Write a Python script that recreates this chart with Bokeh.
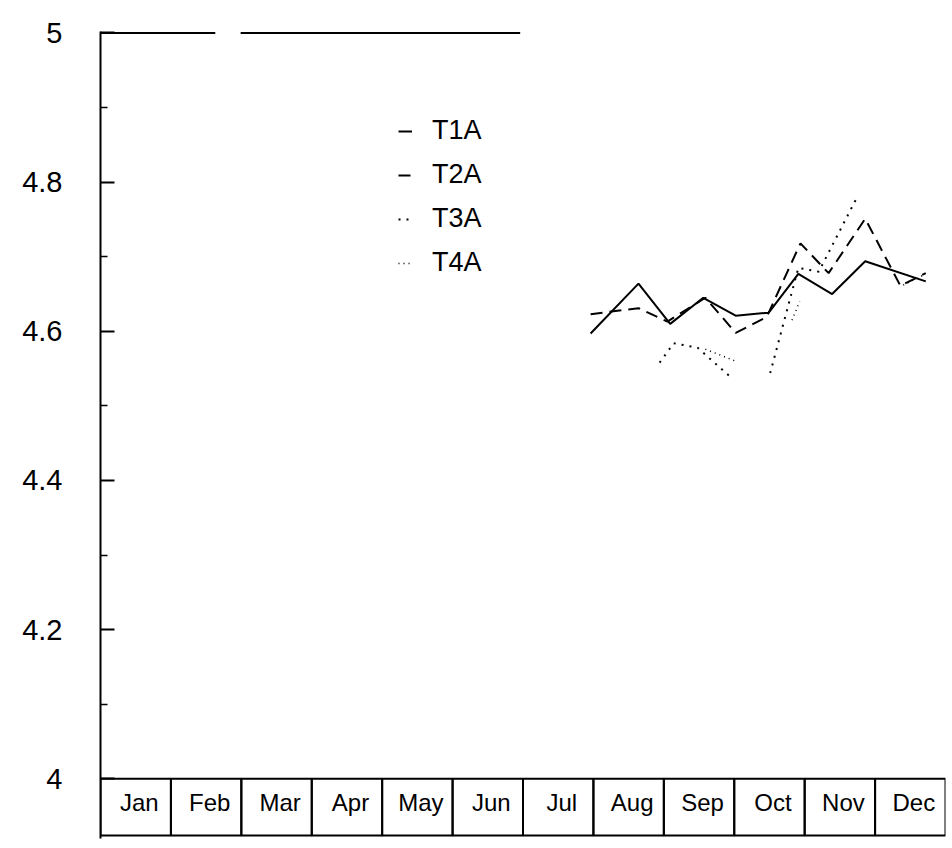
from bokeh.plotting import figure
from bokeh.models import FixedTicker, Legend, LegendItem, ColumnDataSource
from bokeh.core.properties import value
from bokeh.embed import file_html
from bokeh.resources import INLINE

# ---------------- data ----------------
months = ["Jan", "Feb", "Mar", "Apr", "May", "Jun",
          "Jul", "Aug", "Sep", "Oct", "Nov", "Dec"]

y_ticks = [4.0, 4.2, 4.4, 4.6, 4.8, 5.0]
y_tick_labels = ["4", "4.2", "4.4", "4.6", "4.8", "5"]
y_minor_ticks = [4.1, 4.3, 4.5, 4.7, 4.9]

# x positions are in months (0 = start of Jan, 12 = end of Dec)
t1a_x = [6.96, 7.64, 8.09, 8.56, 9.02, 9.49, 9.91, 10.39, 10.86, 11.72]
t1a_y = [4.597, 4.664, 4.610, 4.645, 4.621, 4.625, 4.677, 4.650, 4.694, 4.667]

t2a_x = [6.96, 7.64, 8.05, 8.59, 9.02, 9.46, 9.94, 10.34, 10.86, 11.36, 11.72]
t2a_y = [4.623, 4.631, 4.613, 4.645, 4.598, 4.619, 4.718, 4.678, 4.751, 4.661, 4.678]

nan = float("nan")
t3a_x = [7.94, 8.14, 8.48, 8.98, nan, 9.51, 9.91, 10.20, 10.74]
t3a_y = [4.558, 4.584, 4.578, 4.536, nan, 4.544, 4.685, 4.680, 4.779]

t4a_x = [8.59, 9.02, nan, 9.82, 9.93, nan, 11.40, 11.70]
t4a_y = [4.576, 4.560, nan, 4.615, 4.640, nan, 4.662, 4.676]

# ---------------- figure ----------------
p = figure(width=946, height=840, x_range=(0, 12), y_range=(3.92, 5.002),
           output_backend="svg", toolbar_location=None,
           min_border_left=100, min_border_right=1,
           min_border_top=31, min_border_bottom=2)
p.outline_line_color = None
p.grid.visible = False
p.xaxis.visible = False
p.background_fill_color = "white"
p.border_fill_color = "white"

ya = p.yaxis[0]
ya.ticker = FixedTicker(ticks=y_ticks, minor_ticks=y_minor_ticks)
ya.major_label_overrides = dict(zip(y_ticks, y_tick_labels))
ya.axis_line_width = 2
ya.axis_line_color = "black"
ya.major_tick_in = 14
ya.major_tick_out = 0
ya.minor_tick_in = 7
ya.minor_tick_out = 0
ya.major_tick_line_width = 2
ya.minor_tick_line_width = 1.5
ya.major_label_text_font = "Liberation Sans"
ya.major_label_text_font_size = "29px"
ya.major_label_text_color = "black"
ya.major_label_standoff = 38

# top frame line (as in the scan, broken)
p.segment(x0=[0, 1.99], x1=[1.63, 5.96], y0=[5.0, 5.0], y1=[5.0, 5.0],
          line_color="black", line_width=2)

# month boxes
idx = list(range(len(months)))
box_src = ColumnDataSource(dict(
    left=idx, right=[i + 1 for i in idx],
    xc=[i + 0.55 for i in idx], name=months))
p.quad(left="left", right="right", top=4.0, bottom=3.924, source=box_src,
       fill_color=None, line_color="black", line_width=2)
p.text(x="xc", y=3.968, text="name", source=box_src,
       text_align="center", text_baseline="middle",
       text_font=value("Liberation Sans"), text_font_size="24px",
       text_color="black")

# series
r1 = p.line(t1a_x, t1a_y, line_color="black", line_width=2)
r2 = p.line(t2a_x, t2a_y, line_color="black", line_width=2, line_dash="12 7")
r3 = p.line(t3a_x, t3a_y, line_color="black", line_width=2, line_dash="2 6")
r4 = p.line(t4a_x, t4a_y, line_color="black", line_width=1.5, line_dash="1 4")

legend = Legend(items=[
    LegendItem(label="T1A", renderers=[r1]),
    LegendItem(label="T2A", renderers=[r2]),
    LegendItem(label="T3A", renderers=[r3]),
    LegendItem(label="T4A", renderers=[r4]),
], location=(298, 560), glyph_width=14, glyph_height=30, label_height=30,
    label_standoff=20, spacing=13, padding=0, margin=0,
    border_line_color=None, background_fill_alpha=0,
    label_text_font="Liberation Sans", label_text_font_size="27px",
    label_text_color="black")
p.add_layout(legend)

open("out.html", "w").write(file_html(p, INLINE))
